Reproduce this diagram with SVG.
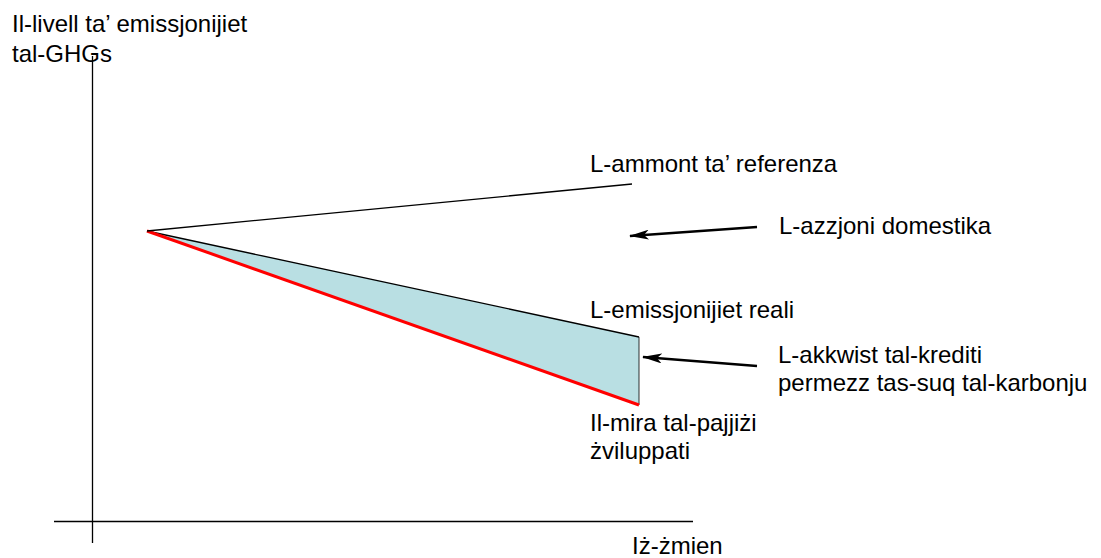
<svg xmlns="http://www.w3.org/2000/svg" width="1101" height="558" viewBox="0 0 1101 558">
<defs>
<style>
text{font-family:"Liberation Sans",Arial,sans-serif;font-size:24px;fill:#000}
.ax{stroke:#000;stroke-width:1.3;fill:none}
.ln{stroke:#000;stroke-width:1.3;fill:none}
.arr{stroke:#000;stroke-width:2.5;fill:none;marker-end:url(#ah)}
</style>
<marker id="ah" viewBox="0 0 20 10" refX="19" refY="5" markerWidth="8" markerHeight="4" orient="auto" markerUnits="strokeWidth">
<path d="M0,0 L20,5 L0,10 L5,5 Z" fill="#000"/>
</marker>
</defs>
<rect width="1101" height="558" fill="#fff"/>
<g id="axes">
<line class="ax" x1="92.5" y1="56" x2="92.5" y2="543"/>
<line class="ax" x1="54" y1="521.5" x2="693" y2="521.5"/>
</g>
<g id="wedge">
<polygon points="147,231 639,337 639,405" fill="#b9dfe3" stroke="none"/>
<line class="ln" x1="147" y1="231" x2="639" y2="337"/>
<line x1="639" y1="337" x2="639" y2="405" stroke="#000" stroke-width="0.8"/>
<line x1="147" y1="231" x2="639" y2="405" stroke="#ff0000" stroke-width="3"/>
</g>
<g id="reference">
<line class="ln" x1="147" y1="231" x2="632" y2="184"/>
</g>
<g id="connectors">
<line class="arr" x1="757" y1="227" x2="630" y2="236"/>
<line class="arr" x1="757" y1="366" x2="643" y2="357"/>
</g>
<g id="label-y"><text x="12" y="32">Il-livell ta’ emissjonijiet</text><text x="12" y="62">tal-GHGs</text></g>
<g id="label-ref"><text x="590" y="172">L-ammont ta’ referenza</text></g>
<g id="label-dom"><text x="779" y="234">L-azzjoni domestika</text></g>
<g id="label-real"><text x="590" y="318">L-emissjonijiet reali</text></g>
<g id="label-cred"><text x="778" y="363">L-akkwist tal-krediti</text><text x="778" y="391">permezz tas-suq tal-karbonju</text></g>
<g id="label-target"><text x="590" y="431">Il-mira tal-pajjiżi</text><text x="590" y="459">żviluppati</text></g>
<g id="label-x"><text x="632" y="554">Iż-żmien</text></g>
</svg>
